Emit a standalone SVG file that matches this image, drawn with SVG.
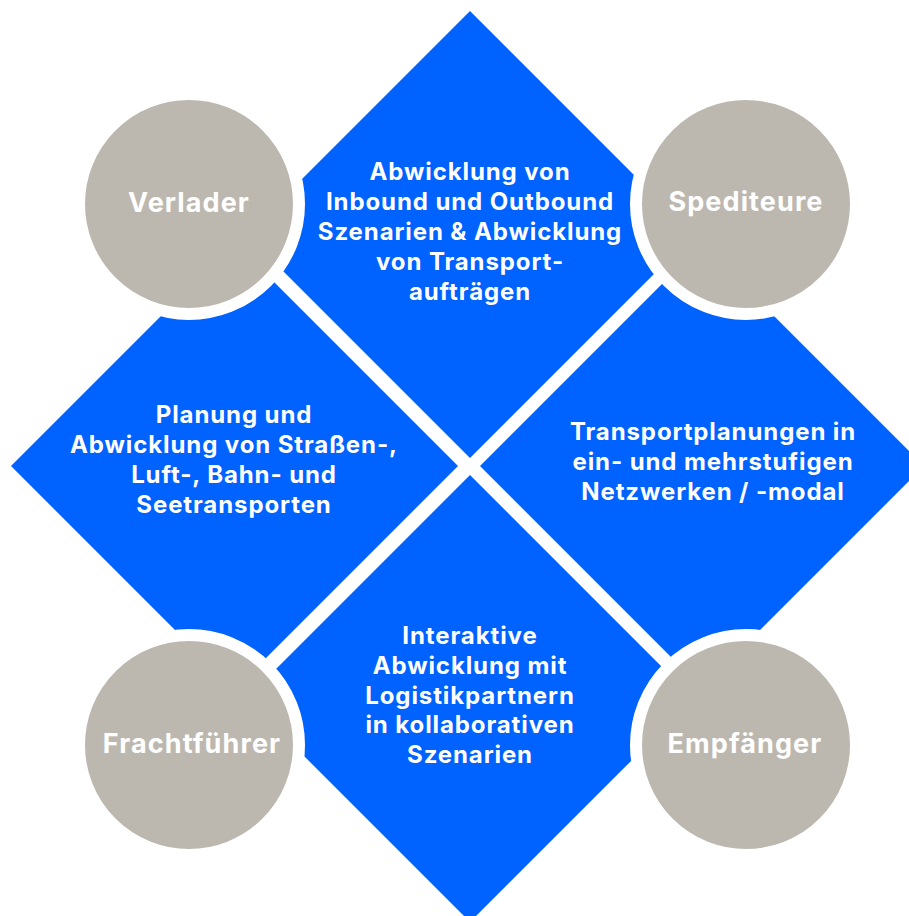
<svg xmlns="http://www.w3.org/2000/svg" width="909" height="916" viewBox="0 0 909 916">
<style>
.d{fill:#0062FF}
.c{fill:#BDB8AF;stroke:#FFFFFF;stroke-width:12}
.t{font-family:Inter,"Liberation Sans",sans-serif;font-weight:700;font-size:24px;letter-spacing:0.9px;fill:#FFFFFF;text-anchor:middle}
.ct{font-family:Inter,"Liberation Sans",sans-serif;font-weight:700;font-size:27px;letter-spacing:1.1px;fill:#FFFFFF;text-anchor:middle}
</style>
<rect width="909" height="916" fill="#FFFFFF"/>
<g id="diamond-top">
<polygon class="d" points="470,11 693.5,234.5 470,458 246.5,234.5"/>
<text class="t" x="470" y="180">Abwicklung von</text>
<text class="t" x="470" y="210">Inbound und Outbound</text>
<text class="t" x="470" y="240">Szenarien &amp; Abwicklung</text>
<text class="t" x="470" y="270">von Transport-</text>
<text class="t" x="470" y="300">aufträgen</text>
</g>
<g id="diamond-left">
<polygon class="d" points="11,466 234.5,242.5 458,466 234.5,689.5"/>
<text class="t" x="234" y="423">Planung und</text>
<text class="t" x="234" y="453">Abwicklung von Straßen-,</text>
<text class="t" x="234" y="483">Luft-, Bahn- und</text>
<text class="t" x="234" y="513">Seetransporten</text>
</g>
<g id="diamond-right">
<polygon class="d" points="480,466 702,244 924,466 702,688"/>
<text class="t" x="713" y="440">Transportplanungen in</text>
<text class="t" x="713" y="470">ein- und mehrstufigen</text>
<text class="t" x="713" y="500">Netzwerken / -modal</text>
</g>
<g id="diamond-bottom">
<polygon class="d" points="470,475 693.5,698.5 470,922 246.5,698.5"/>
<text class="t" x="470" y="644">Interaktive</text>
<text class="t" x="470" y="674">Abwicklung mit</text>
<text class="t" x="470" y="704">Logistikpartnern</text>
<text class="t" x="470" y="733">in kollaborativen</text>
<text class="t" x="470" y="763">Szenarien</text>
</g>
<g id="verlader">
<circle class="c" cx="189" cy="204" r="110"/>
<text class="ct" x="189" y="212">Verlader</text>
</g>
<g id="spediteure">
<circle class="c" cx="746" cy="204" r="110"/>
<text class="ct" x="746" y="211">Spediteure</text>
</g>
<g id="frachtfuehrer">
<circle class="c" cx="189" cy="745" r="110"/>
<text class="ct" x="192" y="753">Frachtführer</text>
</g>
<g id="empfaenger">
<circle class="c" cx="746" cy="745" r="110"/>
<text class="ct" x="745" y="753">Empfänger</text>
</g>
<g id="connectors"></g>
</svg>
